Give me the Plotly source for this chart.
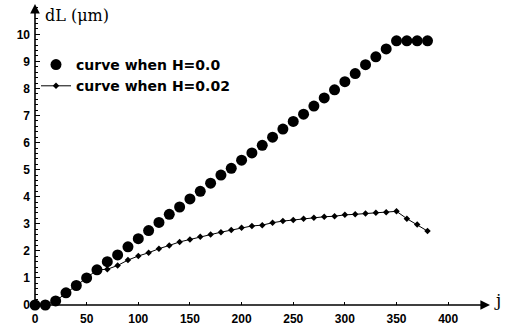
import plotly.graph_objects as go

j_vals = [0, 10, 20, 30, 40, 50, 60, 70, 80, 90, 100, 110, 120, 130, 140, 150, 160, 170, 180, 190,
          200, 210, 220, 230, 240, 250, 260, 270, 280, 290, 300, 310, 320, 330, 340, 350, 360, 370, 380]
dl_h0 = [0.0, 0.0, 0.15, 0.45, 0.72, 1.0, 1.3, 1.6, 1.85, 2.15, 2.45, 2.75, 3.05, 3.35, 3.62, 3.92,
         4.2, 4.5, 4.8, 5.05, 5.35, 5.62, 5.9, 6.2, 6.5, 6.78, 7.05, 7.35, 7.65, 7.95, 8.25, 8.55,
         8.88, 9.17, 9.46, 9.76, 9.76, 9.76, 9.76]
dl_h002 = [0.0, 0.0, 0.15, 0.45, 0.72, 1.0, 1.3, 1.32, 1.46, 1.66, 1.81, 1.93, 2.08, 2.2, 2.33, 2.42,
           2.52, 2.6, 2.69, 2.77, 2.85, 2.92, 2.95, 3.04, 3.1, 3.14, 3.19, 3.22, 3.26, 3.28, 3.33,
           3.35, 3.38, 3.41, 3.43, 3.46, 3.19, 2.97, 2.73]
x_ticks = [0, 50, 100, 150, 200, 250, 300, 350, 400]
y_ticks = [0, 1, 2, 3, 4, 5, 6, 7, 8, 9, 10]

W, H = 506, 327
ML, MR, MT, MB = 35, 16, 4, 22
PW, PH = W - ML - MR, H - MT - MB


def px(xp):
    return (xp - ML) / PW


def py(yp):
    return (H - MB - yp) / PH


fig = go.Figure()
fig.add_trace(go.Scatter(
    x=j_vals, y=dl_h002, mode="lines+markers", name="curve when H=0.02",
    line=dict(color="black", width=1),
    marker=dict(symbol="diamond", size=5, color="black"),
    cliponaxis=False,
))
fig.add_trace(go.Scatter(
    x=j_vals, y=dl_h0, mode="markers", name="curve when H=0.0",
    marker=dict(symbol="circle", size=11, color="black"),
    cliponaxis=False,
))

tickfont = dict(family="Liberation Sans, Arial, sans-serif", size=12, color="black", weight="bold")
fig.update_layout(
    width=W, height=H,
    margin=dict(l=ML, r=MR, t=MT, b=MB, autoexpand=False),
    paper_bgcolor="white", plot_bgcolor="white",
    showlegend=True,
    legend=dict(x=px(36), y=py(49), xanchor="left", yanchor="top",
                traceorder="reversed", bgcolor="rgba(0,0,0,0)",
                font=dict(family="DejaVu Sans, sans-serif", size=14, color="black", weight="bold"),
                tracegroupgap=0, itemsizing="trace"),
    xaxis=dict(range=[0, 440.5], showgrid=False, zeroline=False, showline=False, automargin=False,
               tickvals=x_ticks, ticktext=[str(v) for v in x_ticks],
               ticks="inside", ticklen=3, tickcolor="black", tickfont=tickfont,
               ticklabelstandoff=5),
    yaxis=dict(range=[0, 11.12], showgrid=False, zeroline=False, showline=False, automargin=False,
               tickvals=y_ticks, ticktext=[str(v) for v in y_ticks],
               ticks="inside", ticklen=5, tickcolor="black", tickfont=tickfont,
               ticklabelstandoff=4,
               minor=dict(dtick=0.2, ticks="inside", ticklen=3, tickcolor="black")),
)

# Axes with arrowheads
fig.add_annotation(x=440.5, y=0, ax=0, ay=0, xref="x", yref="y", axref="x", ayref="y",
                   showarrow=True, arrowhead=2, arrowsize=1.2, arrowwidth=1.6, arrowcolor="black", text="")
fig.add_annotation(x=0, y=11.12, ax=0, ay=0, xref="x", yref="y", axref="x", ayref="y",
                   showarrow=True, arrowhead=2, arrowsize=1.2, arrowwidth=1.6, arrowcolor="black", text="")

fig.add_annotation(x=px(43), y=py(15), xref="paper", yref="paper", text="dL (μm)", showarrow=False,
                   font=dict(family="DejaVu Serif, Liberation Serif, serif", size=16, color="black"),
                   xanchor="left", yanchor="middle")
fig.add_annotation(x=px(497), y=py(300), xref="paper", yref="paper", text="j",
                   showarrow=False, xanchor="center", yanchor="middle",
                   font=dict(family="DejaVu Serif, Liberation Serif, serif", size=17, color="black"))

fig.write_html("out.html", config={"displayModeBar": False},
               post_script="document.body.style.margin='0';document.body.style.padding='0';")
